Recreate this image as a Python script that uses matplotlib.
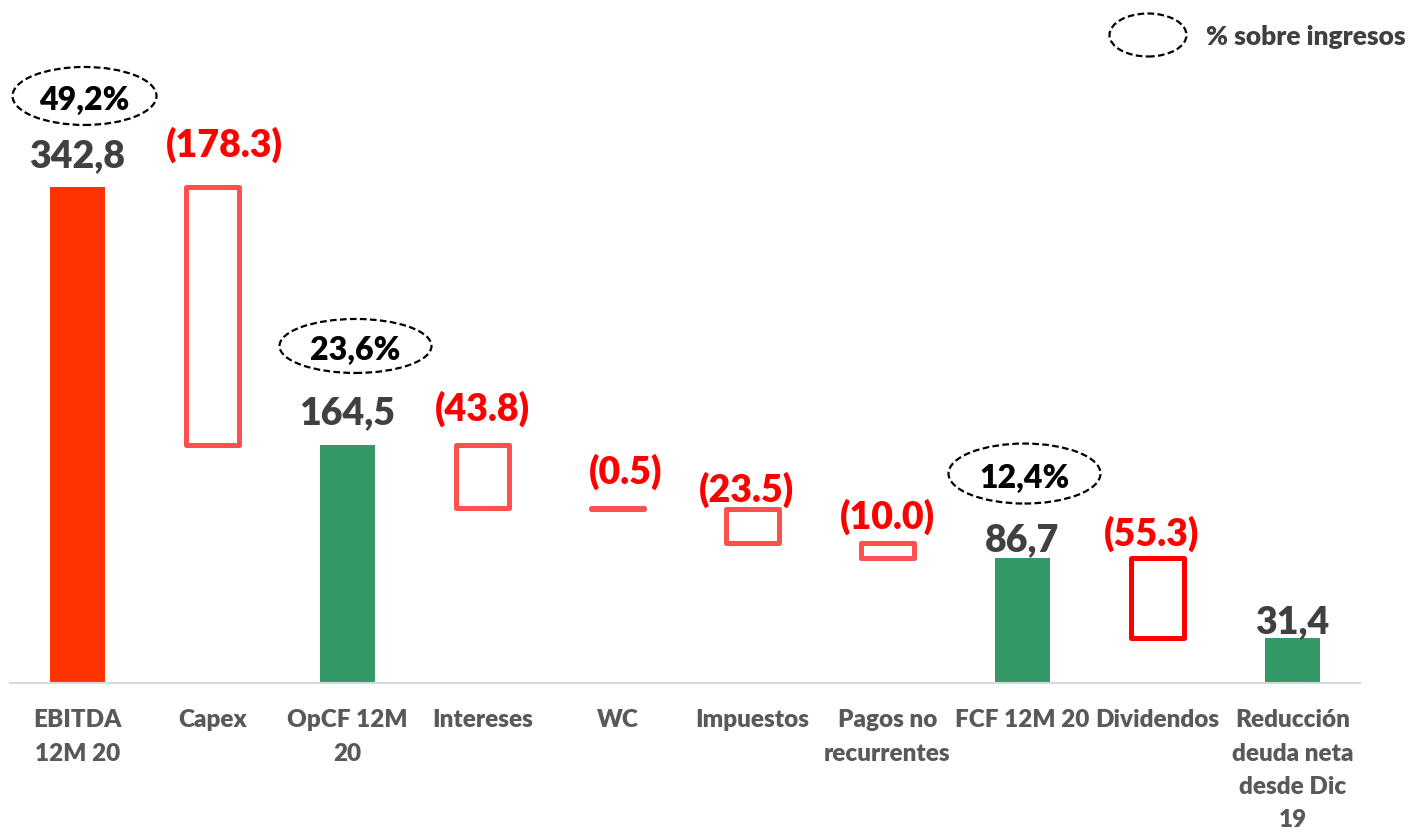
import matplotlib.pyplot as plt
from matplotlib.patches import Ellipse

# Waterfall data (millions)
categories = ['EBITDA\n12M 20', 'Capex', 'OpCF 12M\n20', 'Intereses', 'WC', 'Impuestos',
              'Pagos no\nrecurrentes', 'FCF 12M 20', 'Dividendos',
              'Reducción\ndeuda neta\ndesde Dic\n19']
values = [342.8, -178.3, 164.5, -43.8, -0.5, -23.5, -10.0, 86.7, -55.3, 31.4]
is_total = [True, False, True, False, False, False, False, True, False, True]
pct_index = [0, 2, 7]
pct_labels = ['49,2%', '23,6%', '12,4%']

# styles
fill_colors = ['#FF3300', None, '#339966', None, None, None, None, '#339966', None, '#339966']
edge_colors = [None, '#FF5050', None, '#FF5050', '#FF5050', '#FF5050', '#FF5050', None, '#FF0000', None]
label_dy = [31, 42, 32, 36, 37, 19, 26, 17, 24, 15]     # px above bar top (label centre)
label_dx = [0, 12, 0, 0, 8, -6, 0, 0, -6, 0]
pct_dxy = [(7, 91), (8, 99), (2, 84)]                   # ellipse centre offset from bar top, px
pct_size = [(144, 58), (152, 54), (152, 60)]
WEIGHT = 'heavy'

plt.rcParams['font.family'] = ['Lato', 'DejaVu Sans']

W, H = 1414, 832
fig = plt.figure(figsize=(W / 100, H / 100), dpi=100)
ax = fig.add_axes([10 / W, 149 / H, 1350 / W, 683 / H])
ymax = 472
ax.set_xlim(-0.5, len(values) - 0.5)
ax.set_ylim(0, ymax)
px_x = 1 / 135.0
px_y = ymax / 683.0

level = 0
tops = []
for i, v in enumerate(values):
    if is_total[i]:
        bottom, height = 0, v
        level = v
        ax.bar(i, height, bottom=bottom, width=0.41, color=fill_colors[i], zorder=2)
    else:
        bottom, height = level + v, -v
        level = level + v
        ax.bar(i, height, bottom=bottom, width=0.39, facecolor='none',
               edgecolor=edge_colors[i], linewidth=3.6, joinstyle='round', zorder=2)
    top = bottom + height
    tops.append(top)
    if is_total[i]:
        txt = f'{v:.1f}'.replace('.', ',')
        col = '#404040'
    else:
        txt = f'({-v:.1f})'
        col = '#FF0000'
    ax.text(i + label_dx[i] * px_x, top + label_dy[i] * px_y, txt, ha='center', va='center',
            fontsize=27, fontweight=WEIGHT, color=col, zorder=3)

# percentage-over-revenue bubbles
for k, i in enumerate(pct_index):
    cx = i + pct_dxy[k][0] * px_x
    cy = tops[i] + pct_dxy[k][1] * px_y
    ax.add_patch(Ellipse((cx, cy), pct_size[k][0] * px_x, pct_size[k][1] * px_y,
                         facecolor='none', edgecolor='black', linewidth=1.6,
                         linestyle=(0, (3, 1.5)), zorder=3, clip_on=False))
    ax.text(cx, cy - 5 * px_y, pct_labels[k], ha='center', va='center',
            fontsize=23, fontweight=WEIGHT, color='black', zorder=4)

ax.set_xticks(range(len(categories)))
ax.set_xticklabels(categories, fontsize=17.5, fontweight=WEIGHT, color='#595959',
                   linespacing=1.62)
ax.tick_params(axis='x', length=0, pad=19)
ax.set_yticks([])
for s in ['top', 'right', 'left']:
    ax.spines[s].set_visible(False)
ax.spines['bottom'].set_color('#D9D9D9')
ax.spines['bottom'].set_linewidth(1.5)

# legend
fig.add_artist(Ellipse((1148 / W, 1 - 35 / H), 77 / W, 43 / H, transform=fig.transFigure,
                       facecolor='none', edgecolor='black', linewidth=1.6,
                       linestyle=(0, (3, 1.5))))
fig.text(1206 / W, 1 - 37 / H, '% sobre ingresos', ha='left', va='center',
         fontsize=19, fontweight=WEIGHT, color='#404040')

fig.savefig('out.png', dpi=100)
